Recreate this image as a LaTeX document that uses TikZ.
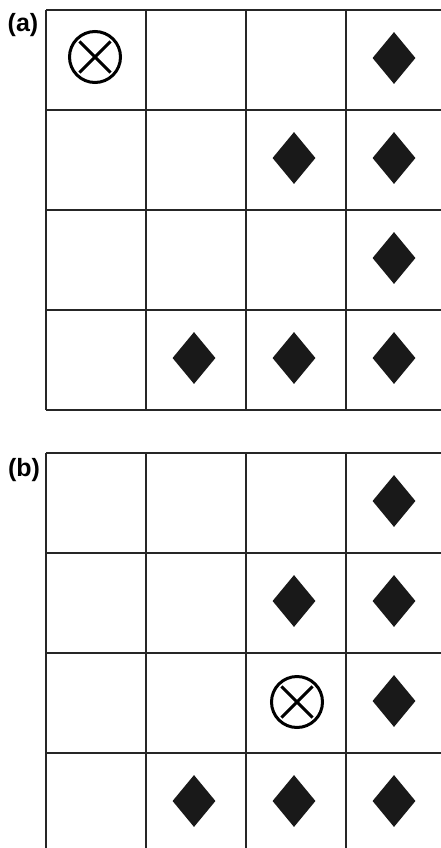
\documentclass[tikz,border=0pt]{standalone}
\usepackage{fontspec}
\setmainfont{Liberation Sans}
\usetikzlibrary{shapes.geometric}

\begin{document}
\begin{tikzpicture}[x=1pt, y=-1pt,
    grid line/.style={line width=1.3pt, draw=black!85},
    piece/.style={diamond, fill=black!90, minimum width=43pt, minimum height=52pt, inner sep=0pt},
    target/.style={circle, draw, line width=3pt, minimum size=51pt, inner sep=0pt},
    cross/.style={line width=3pt, shorten >=5pt, shorten <=5pt},
    panel label/.style={font=\bfseries\fontsize{25}{25}\selectfont, inner sep=0pt}]
  \useasboundingbox (0,0) rectangle (441,848);
  % A 4x4 board: #1 = y-coordinate of its top edge.
  \newcommand{\board}[1]{%
    \foreach \i in {0,...,4} {
      \draw[grid line] (46+100*\i,#1) -- (46+100*\i,#1+400);
      \draw[grid line] (46,#1+100*\i) -- (446,#1+100*\i);}}
  % Pieces on a board: #1 = board name, #2 = top edge, #3 = list of column/row.
  \newcommand{\pieces}[3]{%
    \foreach \c/\r in {#3}
      \node[piece] (#1-\c-\r) at (-6+100*\c, #2-52+100*\r) {};}
  % The target mark: #1 = name, #2 = position.
  \newcommand{\target}[2]{%
    \node[target] (#1) at #2 {};
    \draw[cross] (#1.north west) -- (#1.south east);
    \draw[cross] (#1.north east) -- (#1.south west);}

  % board (a)
  \board{10}
  \node[panel label] (label-a) at (23,25) {(a)};
  \pieces{a}{10}{4/1, 3/2, 4/2, 4/3, 2/4, 3/4, 4/4}
  \target{a-target}{(95,57)}

  % board (b)
  \board{453}
  \node[panel label] (label-b) at (24,470) {(b)};
  \pieces{b}{453}{4/1, 3/2, 4/2, 4/3, 2/4, 3/4, 4/4}
  \target{b-target}{(297,702)}
\end{tikzpicture}
\end{document}
